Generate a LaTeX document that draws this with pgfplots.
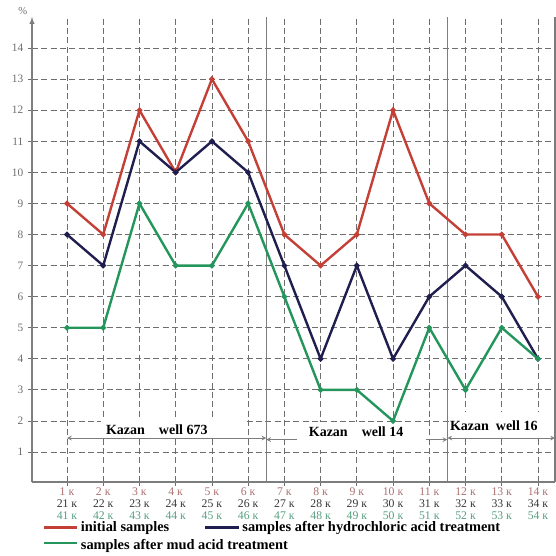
\documentclass[border=0pt]{standalone}
\usepackage{fontspec}
\setmainfont{Liberation Serif}
\usepackage{pgfplots}
\pgfplotsset{compat=1.18}

\definecolor{initred}{RGB}{196,64,54}
\definecolor{hclnavy}{RGB}{32,30,78}
\definecolor{mudgreen}{RGB}{36,150,92}
\definecolor{gridgray}{RGB}{110,110,110}
\definecolor{sepgray}{RGB}{125,125,125}
\definecolor{rowa}{RGB}{172,112,112}
\definecolor{rowb}{RGB}{55,55,55}
\definecolor{rowc}{RGB}{85,158,128}

\newcommand{\tl}[3]{\textcolor{rowa}{#1 к}\\\textcolor{rowb}{#2 к}\\\textcolor{rowc}{#3 к}}

\begin{document}
\begin{tikzpicture}

\begin{axis}[
    scale only axis,
    width=392.25pt, height=348.75pt,
    xmin=0.034, xmax=14.47,
    ymin=0.035, ymax=15,
    axis x line=bottom,
    axis y line=left,
    x axis line style={-, sepgray, line width=0.8pt},
    y axis line style={-latex, sepgray, line width=0.8pt},
    xtick={1,...,14},
    ytick={1,...,14},
    xticklabels={
        {\tl{1}{21}{41}}, {\tl{2}{22}{42}}, {\tl{3}{23}{43}}, {\tl{4}{24}{44}},
        {\tl{5}{25}{45}}, {\tl{6}{26}{46}}, {\tl{7}{27}{47}}, {\tl{8}{28}{48}},
        {\tl{9}{29}{49}}, {\tl{10}{30}{50}}, {\tl{11}{31}{51}}, {\tl{12}{32}{52}},
        {\tl{13}{33}{53}}, {\tl{14}{34}{54}}},
    xticklabel style={align=center, font=\fontsize{8.8}{9}\selectfont, inner sep=1pt},
    yticklabel style={font=\fontsize{8.5}{9}\selectfont, text=gridgray},
    /pgf/number format/assume math mode=true,
    tick align=outside,
    major tick length=3pt,
    tick style={gridgray, densely dashed, line width=0.6pt},
    grid=major,
    major grid style={gridgray, dash pattern=on 4.5pt off 2.5pt, line width=0.6pt},
    clip=false,
    legend columns=2,
    legend cell align={left},
    legend style={
        at={(axis description cs:0.012,-0.073)}, anchor=north west,
        draw=none, fill=none,
        font=\fontsize{10.8}{12}\selectfont\bfseries,
        /tikz/every even column/.append style={column sep=24pt},
        row sep=0pt,
    },
    legend image code/.code={\draw[#1, line width=1.8pt] (0pt,0pt) -- (25pt,0pt);},
]

% right border and well separators
\draw[sepgray, line width=0.8pt] (axis cs:14.47,0.035) -- (axis cs:14.47,15);
\draw[sepgray, line width=0.8pt] (axis cs:6.5,0.035) -- (axis cs:6.5,15);
\draw[sepgray, line width=0.8pt] (axis cs:11.5,0.035) -- (axis cs:11.5,15);

% well annotations
\draw[sepgray, line width=0.6pt, <->, >=stealth] (axis cs:1,1.45) -- (axis cs:6.5,1.45);
\draw[sepgray, line width=0.6pt, <->, >=stealth] (axis cs:6.5,1.40) -- (axis cs:11.5,1.40);
\draw[sepgray, line width=0.6pt, <->, >=stealth] (axis cs:11.5,1.45) -- (axis cs:14.47,1.45);
\fill[white] (axis cs:1.95,1.50) rectangle (axis cs:5.9,2.05);
\fill[white] (axis cs:7.35,1.06) rectangle (axis cs:10.9,1.98);
\fill[white] (axis cs:11.55,1.50) rectangle (axis cs:14.4,2.3);
\node[font=\fontsize{10.5}{12}\selectfont\bfseries] at (axis cs:3.48,1.73) {Kazan\quad well 673};
\node[font=\fontsize{10.5}{12}\selectfont\bfseries] at (axis cs:8.98,1.66) {Kazan\quad well 14};
\node[font=\fontsize{10.5}{12}\selectfont\bfseries] at (axis cs:12.78,1.84) {Kazan\enspace well 16};

% percent sign at the top of the y axis
\node[anchor=east, font=\fontsize{8}{9}\selectfont, text=gridgray] at (axis cs:0.034,15.2) {\%};

\addplot[initred, line width=1.8pt, mark=*, mark size=1.1pt] coordinates {
    (1,9) (2,8) (3,12) (4,10) (5,13) (6,11) (7,8)
    (8,7) (9,8) (10,12) (11,9) (12,8) (13,8) (14,6)};
\addlegendentry{initial samples}

\addplot[hclnavy, line width=1.8pt, mark=*, mark size=1.1pt] coordinates {
    (1,8) (2,7) (3,11) (4,10) (5,11) (6,10) (7,7)
    (8,4) (9,7) (10,4) (11,6) (12,7) (13,6) (14,4)};
\addlegendentry{samples after hydrochloric acid treatment}

\addplot[mudgreen, line width=1.8pt, mark=*, mark size=1.1pt] coordinates {
    (1,5) (2,5) (3,9) (4,7) (5,7) (6,9) (7,6)
    (8,3) (9,3) (10,2) (11,5) (12,3) (13,5) (14,4)};
\addlegendentry{\makebox[0pt][l]{\raisebox{-0.6ex}{samples after mud acid treatment}}}

\end{axis}

\pgfresetboundingbox
\useasboundingbox (-24pt,-55.5pt) rectangle (393pt,361.5pt);

\end{tikzpicture}
\end{document}
